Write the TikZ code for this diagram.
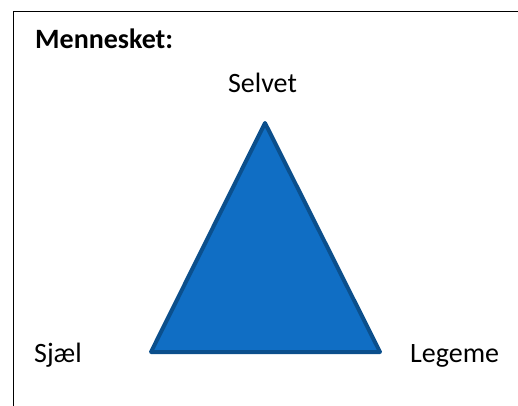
\documentclass[tikz,border=0pt]{standalone}
\usepackage{fontspec}
\setmainfont{Carlito}
\definecolor{trifill}{HTML}{106EC4}
\definecolor{triedge}{HTML}{0B4F8C}
\tikzset{lbl/.style={inner sep=0pt,font=\fontsize{28}{32}\selectfont}}

\begin{document}
\begin{tikzpicture}[x=1pt,y=-1pt]
      \useasboundingbox (0,0) rectangle (518,405);
      \draw[line width=1.5pt] (13.5,420) -- (13.5,11.5) -- (530,11.5);
      \coordinate (top) at (265,123);
      \coordinate (left) at (151,352);
      \coordinate (right) at (380,352);
      \draw[fill=trifill,draw=triedge,line width=4pt,line join=round] (top) -- (left) -- (right) -- cycle;
\node (title) [lbl,anchor=base west,font=\fontsize{28}{32}\selectfont\bfseries] at (35,48) {Mennesket:};
\node (selvet) [lbl,anchor=base] at (262.5,92) {Selvet};
\node (sjael) [lbl,anchor=base west] at (34,362) {Sjæl};
\node (legeme) [lbl,anchor=base west] at (410,362) {Legeme};
    \end{tikzpicture}
\end{document}
